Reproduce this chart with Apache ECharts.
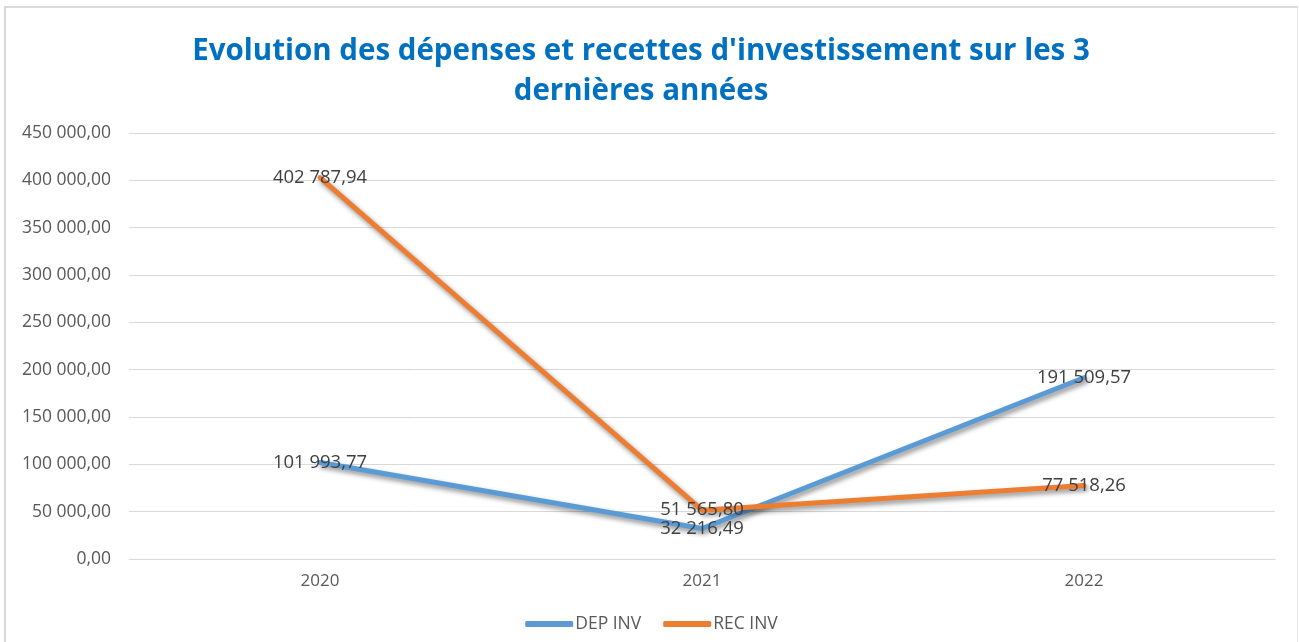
<!DOCTYPE html>
<html><head><meta charset="utf-8">
<script src="https://cdn.jsdelivr.net/npm/echarts@6/dist/echarts.min.js"></script>
<style>
html,body{margin:0;padding:0;background:#fff;}
#frame{position:absolute;left:4px;top:6px;width:1291px;height:636px;border-top:2px solid #d9d9d9;border-left:2px solid #d9d9d9;border-right:1px solid #e6e6e6;background:#fff;}
#c{position:absolute;left:0;top:0;width:1291px;height:636px;}
</style></head><body>
<div id="frame"><div id="c"></div></div>
<script>
const categories = ['2020', '2021', '2022'];
const depInv = [101993.77, 32216.49, 191509.57];
const recInv = [402787.94, 51565.80, 77518.26];
const seriesNames = ['DEP INV', 'REC INV'];
const titleText = "Evolution des dépenses et recettes d'investissement sur les 3\ndernières années";

function fmt(v){
  const s = Number(v).toFixed(2);
  let [i,d] = s.split('.');
  i = i.replace(/\B(?=(\d{3})+(?!\d))/g, ' ');
  return i + ',' + d;
}
const FONT = 'Open Sans';
const chart = echarts.init(document.getElementById('c'));
const mk = (name, data, color) => ({
  name, type:'line', data, symbol:'circle', symbolSize:1, showSymbol:true, smooth:false,
  lineStyle:{width:5, color, cap:'round', join:'round', shadowColor:'rgba(0,0,0,0.45)', shadowBlur:5, shadowOffsetX:2, shadowOffsetY:3},
  itemStyle:{color},
  label:{show:true, position:'inside', offset:[0,2], formatter:p=>fmt(p.value), color:'#404040', fontFamily:FONT, fontSize:18.5},
  labelLayout:{hideOverlap:false},
  emphasis:{disabled:true}
});
chart.setOption({
  animation:false,
  title:{text:titleText, left:630, textAlign:'center', top:19, textStyle:{color:'#0070C0', fontFamily:FONT, fontWeight:'bold', fontSize:29.5, lineHeight:40}},
  grid:{left:123, right:22, top:125, bottom:85, containLabel:false},
  xAxis:{type:'category', data:categories, boundaryGap:true,
    axisLine:{lineStyle:{color:'#d9d9d9', width:1}}, axisTick:{show:false},
    axisLabel:{color:'#595959', fontFamily:FONT, fontSize:17, margin:14}},
  yAxis:{type:'value', min:0, max:450000, interval:50000,
    axisLine:{show:false}, axisTick:{show:false},
    splitLine:{lineStyle:{color:'#d9d9d9', width:1}},
    axisLabel:{color:'#595959', fontFamily:FONT, fontSize:17.5, margin:18, formatter:v=>fmt(v)}},
  legend:{data:seriesNames, top:602, left:'center', icon:'roundRect', itemWidth:48, itemHeight:6, itemGap:22,
    textStyle:{color:'#595959', fontFamily:FONT, fontSize:17.5, padding:[0,0,0,-3]}},
  series:[mk(seriesNames[0], depInv, '#5B9BD5'), mk(seriesNames[1], recInv, '#ED7D31')]
});
</script>
</body></html>
